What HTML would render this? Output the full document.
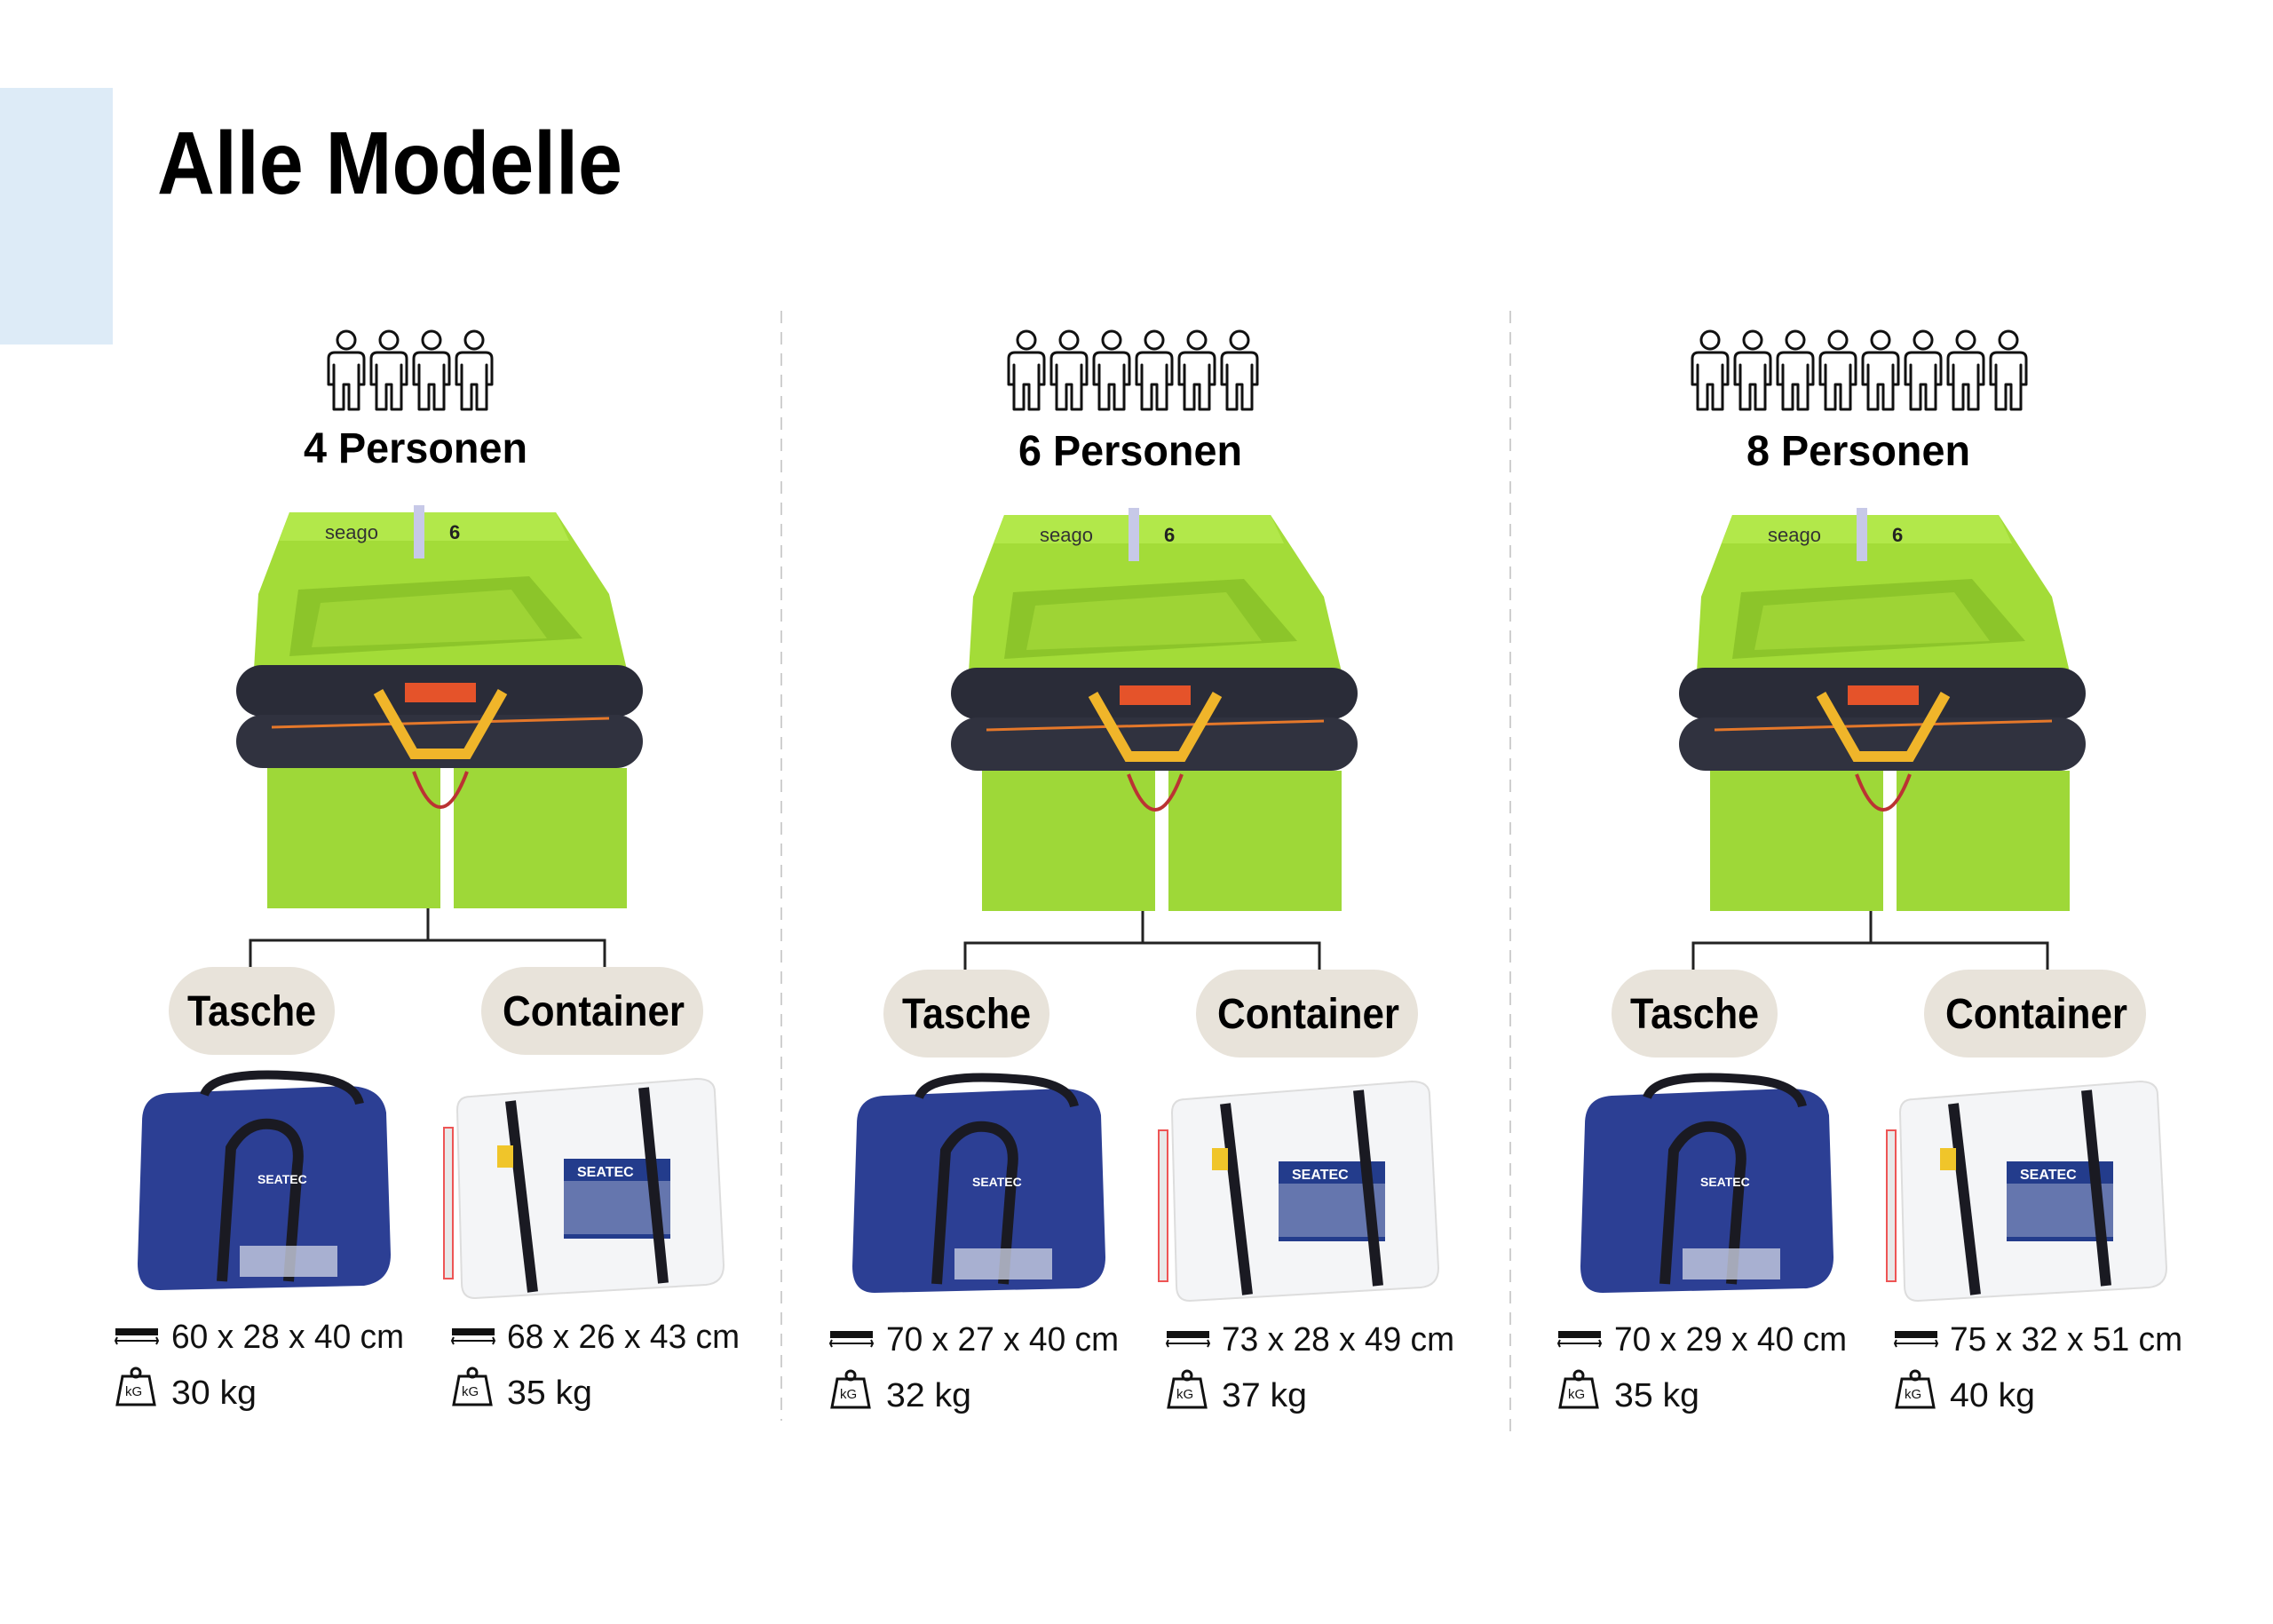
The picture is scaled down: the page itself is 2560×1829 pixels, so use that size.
<!DOCTYPE html>
<html><head><meta charset="utf-8"><style>html,body{margin:0;padding:0;background:#fff}svg{display:block}</style></head>
<body>
<svg width="2560" height="1829" viewBox="0 0 2560 1829" xmlns="http://www.w3.org/2000/svg" font-family="Liberation Sans, sans-serif" font-weight="bold">
<defs>
<g id="person">
<circle cx="24" cy="12" r="10" fill="#fff" stroke="#111" stroke-width="3"/>
<path d="M4,33 Q4,26 11,26 L37,26 Q44,26 44,33 L44,62 L38,62 L38,40 L38,90 L27,90 L27,62 L21,62 L21,90 L10,90 L10,40 L10,62 L4,62 Z" fill="#fff" stroke="#111" stroke-width="3" stroke-linejoin="round"/>
</g>
<g id="raft">
<polygon points="60,8 360,8 420,100 440,185 20,185 25,100" fill="#a3dc38"/>
<polygon points="60,8 360,8 375,40 48,40" fill="#b2e84a"/>
<polygon points="70,95 330,80 390,150 60,170" fill="#8cc52a"/>
<polygon points="95,110 310,95 350,150 85,160" fill="#9ed435"/>
<rect x="200" y="0" width="12" height="60" fill="#c7c9e8"/>
<text x="100" y="38" font-size="22" font-weight="normal" fill="#333">seago</text>
<text x="240" y="38" font-size="22" fill="#222">6</text>
<rect x="0" y="180" width="458" height="58" rx="29" fill="#2a2c38"/>
<rect x="0" y="236" width="458" height="60" rx="30" fill="#30323f"/>
<rect x="190" y="200" width="80" height="22" fill="#e5532a"/>
<path d="M40,250 L420,240" stroke="#e5782a" stroke-width="3"/>
<path d="M160,210 L200,280 L260,280 L300,210" stroke="#f0b52a" stroke-width="12" fill="none"/>
<rect x="35" y="296" width="195" height="158" fill="#9ed838"/>
<rect x="245" y="296" width="195" height="158" fill="#9ed838"/>
<path d="M200,300 Q230,380 260,300" stroke="#b33" stroke-width="4" fill="none"/>
</g>
<g id="bag">
<path d="M10,50 Q10,20 40,18 L240,10 Q280,10 285,40 L290,200 Q290,230 260,235 L30,240 Q5,240 5,210 Z" fill="#2c3f94"/>
<path d="M80,20 Q90,-10 200,0 Q250,5 255,30" stroke="#1a1a22" stroke-width="10" fill="none"/>
<path d="M100,230 L110,80 Q130,45 165,55 Q190,65 185,100 L175,230" stroke="#1a1a22" stroke-width="12" fill="none"/>
<text x="140" y="120" font-size="14" fill="#fff">SEATEC</text>
<rect x="120" y="190" width="110" height="35" fill="#c8cde0" opacity="0.8"/>
</g>
<g id="cont">
<path d="M30,40 Q30,25 45,25 L300,5 Q320,5 320,20 L330,215 Q330,235 310,237 L50,252 Q35,252 35,235 Z" fill="#f4f5f7" stroke="#ddd" stroke-width="2"/>
<rect x="150" y="95" width="120" height="90" fill="#233c8c"/>
<rect x="150" y="120" width="120" height="60" fill="#fff" opacity="0.3"/>
<text x="165" y="115" font-size="16" fill="#fff">SEATEC</text>
<path d="M90,30 L115,245" stroke="#1a1a22" stroke-width="12"/>
<path d="M240,15 L262,235" stroke="#1a1a22" stroke-width="12"/>
<rect x="15" y="60" width="10" height="170" fill="#e8e8e8" stroke="#e55" stroke-width="2"/>
<rect x="75" y="80" width="18" height="25" fill="#f0c52a"/>
</g>
<g id="ruler">
<rect x="0" y="4" width="48" height="8" fill="#111"/>
<path d="M0,18 L48,18 M2,14 L0,18 L2,22 M46,14 L48,18 L46,22" stroke="#111" stroke-width="2" fill="none"/>
</g>
<g id="kg">
<path d="M6,10 L36,10 L42,42 L0,42 Z" fill="#fff" stroke="#111" stroke-width="3"/>
<circle cx="21" cy="6" r="5" fill="none" stroke="#111" stroke-width="3"/>
<text x="9" y="32" font-size="15" font-weight="normal" fill="#111">kG</text>
</g>
</defs>

<rect x="0" y="99" width="127" height="289" fill="#ddebf7"/>
<text x="177" y="218" font-size="100" textLength="524" lengthAdjust="spacingAndGlyphs" fill="#000">Alle Modelle</text>

<g stroke="#cfcfcf" stroke-width="2" stroke-dasharray="14,10">
<line x1="880" y1="350" x2="880" y2="1600"/>
<line x1="1701" y1="350" x2="1701" y2="1615"/>
</g>

<!-- people -->
<g transform="translate(366,371)"><use href="#person"/><use href="#person" x="48"/><use href="#person" x="96"/><use href="#person" x="144"/></g>
<g transform="translate(1132,371)"><use href="#person"/><use href="#person" x="48"/><use href="#person" x="96"/><use href="#person" x="144"/><use href="#person" x="192"/><use href="#person" x="240"/></g>
<g transform="translate(1902,371)"><use href="#person"/><use href="#person" x="48"/><use href="#person" x="96"/><use href="#person" x="144"/><use href="#person" x="192"/><use href="#person" x="240"/><use href="#person" x="288"/><use href="#person" x="336"/></g>

<g id="c1">
<text x="342" y="521" font-size="48" textLength="252" lengthAdjust="spacingAndGlyphs">4 Personen</text>
<use href="#raft" x="266" y="569"/>
<path d="M482,1023 L482,1059 M282,1089 L282,1059 L681,1059 L681,1089" stroke="#222" stroke-width="3" fill="none"/>
<rect x="190" y="1089" width="187" height="99" rx="49.5" fill="#e8e3da"/>
<rect x="542" y="1089" width="250" height="99" rx="49.5" fill="#e8e3da"/>
<text x="211" y="1155" font-size="48" textLength="145" lengthAdjust="spacingAndGlyphs">Tasche</text>
<text x="566" y="1155" font-size="48" textLength="205" lengthAdjust="spacingAndGlyphs">Container</text>
<use href="#bag" x="150" y="1213"/>
<use href="#cont" x="485" y="1210"/>
<use href="#ruler" x="130" y="1492"/>
<use href="#kg" x="132" y="1540"/>
<use href="#ruler" x="509" y="1492"/>
<use href="#kg" x="511" y="1540"/>
<g font-weight="normal" font-size="38" fill="#111">
<text x="193" y="1518" textLength="262" lengthAdjust="spacingAndGlyphs">60 x 28 x 40 cm</text>
<text x="193" y="1581" textLength="96" lengthAdjust="spacingAndGlyphs">30 kg</text>
<text x="571" y="1518" textLength="262" lengthAdjust="spacingAndGlyphs">68 x 26 x 43 cm</text>
<text x="571" y="1581" textLength="96" lengthAdjust="spacingAndGlyphs">35 kg</text>
</g>
</g>

<g transform="translate(805,3)">
<text x="342" y="521" font-size="48" textLength="252" lengthAdjust="spacingAndGlyphs">6 Personen</text>
<use href="#raft" x="266" y="569"/>
<path d="M482,1023 L482,1059 M282,1089 L282,1059 L681,1059 L681,1089" stroke="#222" stroke-width="3" fill="none"/>
<rect x="190" y="1089" width="187" height="99" rx="49.5" fill="#e8e3da"/>
<rect x="542" y="1089" width="250" height="99" rx="49.5" fill="#e8e3da"/>
<text x="211" y="1155" font-size="48" textLength="145" lengthAdjust="spacingAndGlyphs">Tasche</text>
<text x="566" y="1155" font-size="48" textLength="205" lengthAdjust="spacingAndGlyphs">Container</text>
<use href="#bag" x="150" y="1213"/>
<use href="#cont" x="485" y="1210"/>
<use href="#ruler" x="130" y="1492"/>
<use href="#kg" x="132" y="1540"/>
<use href="#ruler" x="509" y="1492"/>
<use href="#kg" x="511" y="1540"/>
<g font-weight="normal" font-size="38" fill="#111">
<text x="193" y="1518" textLength="262" lengthAdjust="spacingAndGlyphs">70 x 27 x 40 cm</text>
<text x="193" y="1581" textLength="96" lengthAdjust="spacingAndGlyphs">32 kg</text>
<text x="571" y="1518" textLength="262" lengthAdjust="spacingAndGlyphs">73 x 28 x 49 cm</text>
<text x="571" y="1581" textLength="96" lengthAdjust="spacingAndGlyphs">37 kg</text>
</g>
</g>

<g transform="translate(1625,3)">
<text x="342" y="521" font-size="48" textLength="252" lengthAdjust="spacingAndGlyphs">8 Personen</text>
<use href="#raft" x="266" y="569"/>
<path d="M482,1023 L482,1059 M282,1089 L282,1059 L681,1059 L681,1089" stroke="#222" stroke-width="3" fill="none"/>
<rect x="190" y="1089" width="187" height="99" rx="49.5" fill="#e8e3da"/>
<rect x="542" y="1089" width="250" height="99" rx="49.5" fill="#e8e3da"/>
<text x="211" y="1155" font-size="48" textLength="145" lengthAdjust="spacingAndGlyphs">Tasche</text>
<text x="566" y="1155" font-size="48" textLength="205" lengthAdjust="spacingAndGlyphs">Container</text>
<use href="#bag" x="150" y="1213"/>
<use href="#cont" x="485" y="1210"/>
<use href="#ruler" x="130" y="1492"/>
<use href="#kg" x="132" y="1540"/>
<use href="#ruler" x="509" y="1492"/>
<use href="#kg" x="511" y="1540"/>
<g font-weight="normal" font-size="38" fill="#111">
<text x="193" y="1518" textLength="262" lengthAdjust="spacingAndGlyphs">70 x 29 x 40 cm</text>
<text x="193" y="1581" textLength="96" lengthAdjust="spacingAndGlyphs">35 kg</text>
<text x="571" y="1518" textLength="262" lengthAdjust="spacingAndGlyphs">75 x 32 x 51 cm</text>
<text x="571" y="1581" textLength="96" lengthAdjust="spacingAndGlyphs">40 kg</text>
</g>
</g>
</svg>
</body></html>
